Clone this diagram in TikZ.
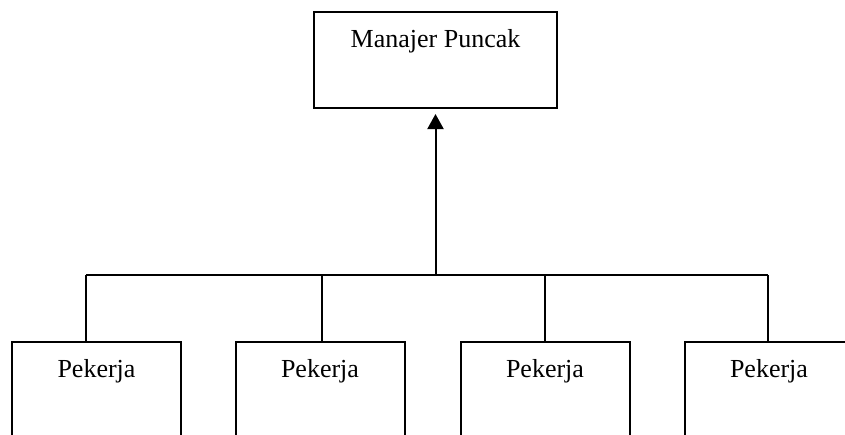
\documentclass[tikz,border=0pt]{standalone}
\usepackage{fontspec}
\setmainfont{Liberation Serif}
\usetikzlibrary{arrows.meta}
\begin{document}
\begin{tikzpicture}[x=1pt,y=-1pt,line width=2pt,
  box/.style={draw,line width=2pt,rectangle,inner sep=0pt},
  topbox/.style={box,minimum width=243pt,minimum height=96pt},
  workbox/.style={box,minimum width=169pt,minimum height=140pt},
  lbl/.style={font=\fontsize{26}{30}\selectfont,anchor=base,inner sep=0pt},
  uparrow/.style={-{Triangle[width=16pt,length=15pt]}}]
\useasboundingbox (0,0) rectangle (845,434);
\clip (0,0) rectangle (845,434);
% top box
\node[topbox] (mgr) at (435.5,60) {};
\node[lbl] (mgrtext) at (435.5,47) {Manajer Puncak};
% worker boxes
\node[workbox] (w1) at (96.5,412) {};
\node[workbox] (w2) at (320,412) {};
\node[workbox] (w3) at (545,412) {};
\node[workbox] (w4) at (769,412) {};
\node[lbl] (t1) at (96.5,377) {Pekerja};
\node[lbl] (t2) at (320,377) {Pekerja};
\node[lbl] (t3) at (545,377) {Pekerja};
\node[lbl] (t4) at (769,377) {Pekerja};
% bus
\coordinate (b1) at (86,275);
\coordinate (b2) at (322,275);
\coordinate (b3) at (545,275);
\coordinate (b4) at (768,275);
\coordinate (bm) at (mgr.south |- b1);
\draw (b1) -- (b4);
\draw (b1) -- (b1 |- w1.north);
\draw (b2) -- (b2 |- w2.north);
\draw (b3) -- (b3 |- w3.north);
\draw (b4) -- (b4 |- w4.north);
\draw[uparrow] (bm) -- ([yshift=-5pt]mgr.south);
\end{tikzpicture}
\end{document}
